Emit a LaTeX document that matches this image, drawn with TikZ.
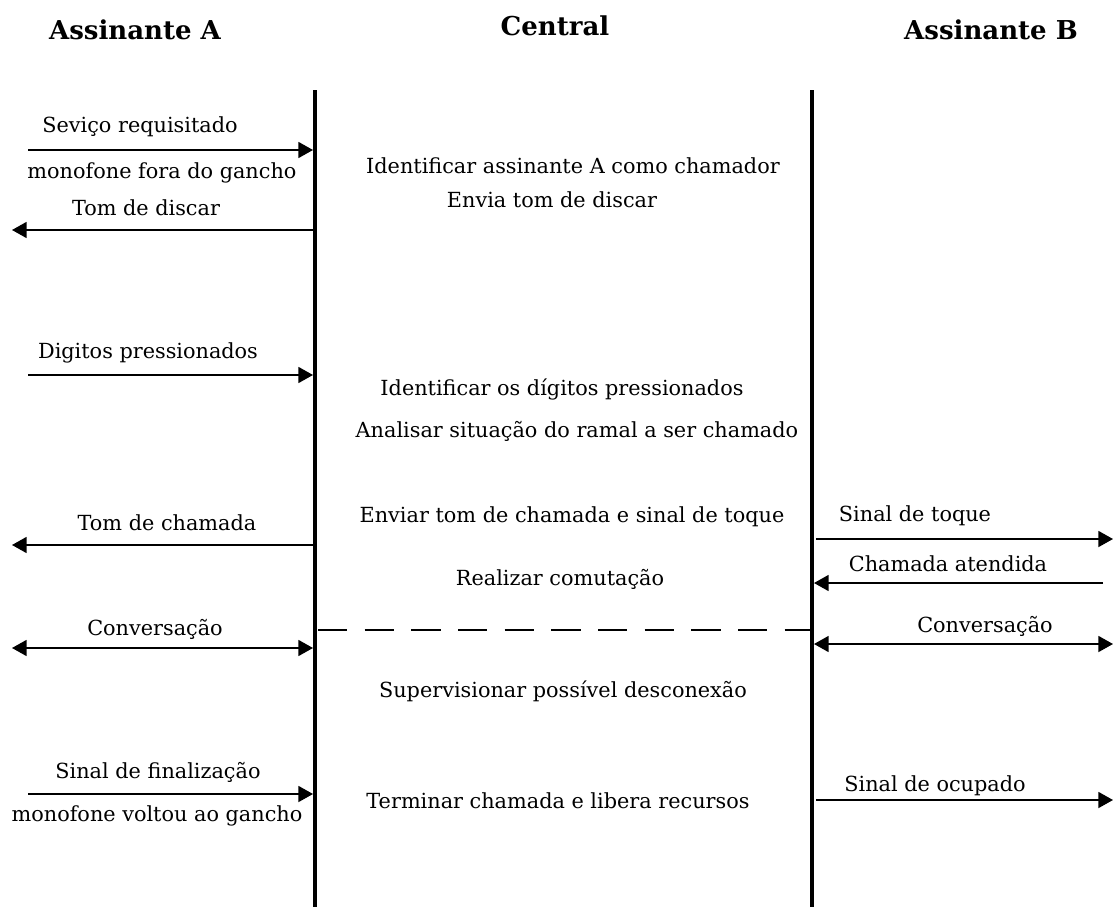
\documentclass[tikz,border=0pt]{standalone}
\usepackage{fontspec}
\setmainfont{DejaVu Serif}
\usetikzlibrary{arrows.meta}
\begin{document}
\begin{tikzpicture}[x=0.75pt,y=-0.75pt,
  head/.style={font=\fontsize{19.5pt}{22pt}\selectfont\bfseries},
  lbl/.style={font=\fontsize{15.6pt}{18pt}\selectfont, inner sep=0pt},
  life/.style={line width=2.3pt},
  msg/.style={line width=1.3pt, -{Triangle[length=11pt,width=12pt]}},
  msgboth/.style={line width=1.3pt, {Triangle[length=11pt,width=12pt]}-{Triangle[length=11pt,width=12pt]}},
  conv/.style={line width=1.2pt, dash pattern=on 22pt off 13pt}]
\useasboundingbox[fill=white] (0,0) rectangle (1115,907);

% column headings
\node[head] (hA) at (135,30) {Assinante A};
\node[head] (hC) at (555,26) {Central};
\node[head] (hB) at (991,30) {Assinante B};

% lifelines
\coordinate (la) at (315,90);
\coordinate (lA) at (315,907);
\coordinate (lb) at (812,90);
\coordinate (lB) at (812,907);
\draw[life] (la) -- (lA);
\draw[life] (lb) -- (lB);

% subscriber A messages
\coordinate (a1s) at (28,150);  \coordinate (a1e) at (313,150);
\coordinate (a2s) at (313,230); \coordinate (a2e) at (12,230);
\coordinate (a3s) at (28,375);  \coordinate (a3e) at (313,375);
\coordinate (a4s) at (313,545); \coordinate (a4e) at (12,545);
\coordinate (a5s) at (12,648);  \coordinate (a5e) at (313,648);
\coordinate (a6s) at (28,794);  \coordinate (a6e) at (313,794);
\draw[msg] (a1s) -- (a1e);
\draw[msg] (a2s) -- (a2e);
\draw[msg] (a3s) -- (a3e);
\draw[msg] (a4s) -- (a4e);
\draw[msgboth] (a5s) -- (a5e);
\draw[msg] (a6s) -- (a6e);

\node[lbl] (t1) at (140,127) {Seviço requisitado};
\node[lbl] (t1b) at (162,173) {monofone fora do gancho};
\node[lbl] (t2) at (146,208) {Tom de discar};
\node[lbl] (t3) at (148,353) {Digitos pressionados};
\node[lbl] (t4) at (167,523) {Tom de chamada};
\node[lbl] (t5) at (155,629) {Conversação};
\node[lbl] (t6) at (158,772) {Sinal de finalização};
\node[lbl] (t6b) at (157,816) {monofone voltou ao gancho};

% subscriber B messages
\coordinate (b1s) at (816,539);  \coordinate (b1e) at (1113,539);
\coordinate (b2s) at (1103,583); \coordinate (b2e) at (814,583);
\coordinate (b3s) at (814,644);  \coordinate (b3e) at (1113,644);
\coordinate (b4s) at (816,800);  \coordinate (b4e) at (1113,800);
\draw[msg] (b1s) -- (b1e);
\draw[msg] (b2s) -- (b2e);
\draw[msgboth] (b3s) -- (b3e);
\draw[msg] (b4s) -- (b4e);

\node[lbl] (u1) at (915,516) {Sinal de toque};
\node[lbl] (u2) at (948,564) {Chamada atendida};
\node[lbl] (u3) at (985,626) {Conversação};
\node[lbl] (u4) at (935,786) {Sinal de ocupado};

% established connection through the exchange
\coordinate (c1) at (318,630);
\coordinate (c2) at (810,630);
\draw[conv] (c1) -- (c2);

% exchange actions
\node[lbl] (e1) at (573,166) {Identificar assinante A como chamador};
\node[lbl] (e2) at (552,200) {Envia tom de discar};
\node[lbl] (e3) at (562,389) {Identificar os dígitos pressionados};
\node[lbl] (e4) at (577,431) {Analisar situação do ramal a ser chamado};
\node[lbl] (e5) at (572,517) {Enviar tom de chamada e sinal de toque};
\node[lbl] (e6) at (560,579) {Realizar comutação};
\node[lbl] (e7) at (563,691) {Supervisionar possível desconexão};
\node[lbl] (e8) at (558,801) {Terminar chamada e libera recursos};
\end{tikzpicture}
\end{document}
